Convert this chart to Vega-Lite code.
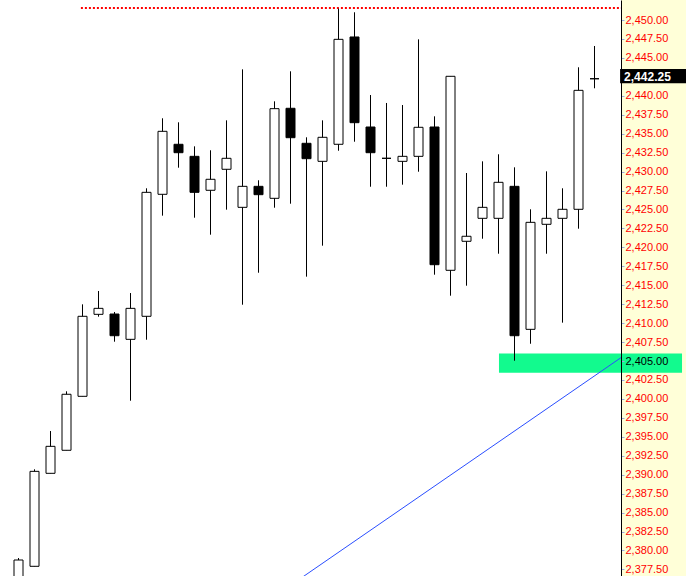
{
  "$schema": "https://vega.github.io/schema/vega-lite/v6.json",
  "width": 621,
  "height": 576,
  "autosize": {"type": "none"},
  "padding": {"left": 0, "top": 0, "right": 65, "bottom": 0},
  "background": "#ffffd8",
  "config": {
    "view": {"stroke": null, "fill": "white"}
  },
  "datasets": {
    "candles": [
      {"i": 0, "open": 2375.5, "high": 2379.0, "low": 2375.0, "close": 2378.74},
      {"i": 1, "open": 2377.91, "high": 2390.71, "low": 2377.91, "close": 2390.44},
      {"i": 2, "open": 2390.18, "high": 2395.76, "low": 2390.18, "close": 2393.74},
      {"i": 3, "open": 2393.22, "high": 2401.0, "low": 2393.22, "close": 2400.61},
      {"i": 4, "open": 2400.34, "high": 2412.48, "low": 2400.34, "close": 2410.9},
      {"i": 5, "open": 2411.16, "high": 2414.24, "low": 2410.85, "close": 2411.95},
      {"i": 6, "open": 2411.2, "high": 2411.47, "low": 2407.55, "close": 2408.34},
      {"i": 7, "open": 2407.86, "high": 2413.97, "low": 2399.76, "close": 2411.95},
      {"i": 8, "open": 2410.9, "high": 2427.79, "low": 2407.81, "close": 2427.26},
      {"i": 9, "open": 2427.0, "high": 2437.03, "low": 2424.18, "close": 2435.31},
      {"i": 10, "open": 2433.6, "high": 2436.5, "low": 2430.51, "close": 2432.49},
      {"i": 11, "open": 2432.01, "high": 2433.33, "low": 2423.91, "close": 2427.26},
      {"i": 12, "open": 2427.53, "high": 2432.81, "low": 2421.67, "close": 2428.98},
      {"i": 13, "open": 2430.3, "high": 2436.76, "low": 2424.97, "close": 2431.75},
      {"i": 14, "open": 2425.28, "high": 2443.49, "low": 2412.43, "close": 2428.05},
      {"i": 15, "open": 2428.05, "high": 2428.85, "low": 2416.65, "close": 2426.95},
      {"i": 16, "open": 2426.47, "high": 2439.27, "low": 2425.23, "close": 2438.3},
      {"i": 17, "open": 2438.35, "high": 2443.23, "low": 2425.76, "close": 2434.47},
      {"i": 18, "open": 2433.73, "high": 2434.52, "low": 2416.13, "close": 2431.7},
      {"i": 19, "open": 2431.35, "high": 2436.76, "low": 2420.22, "close": 2434.52},
      {"i": 20, "open": 2433.6, "high": 2451.5, "low": 2432.75, "close": 2447.45},
      {"i": 21, "open": 2447.76, "high": 2451.02, "low": 2433.94, "close": 2436.45},
      {"i": 22, "open": 2435.88, "high": 2440.1, "low": 2428.0, "close": 2432.49},
      {"i": 23, "open": 2431.75, "high": 2439.05, "low": 2428.0, "close": 2431.75},
      {"i": 24, "open": 2431.35, "high": 2438.78, "low": 2428.27, "close": 2432.01},
      {"i": 25, "open": 2432.01, "high": 2447.45, "low": 2429.98, "close": 2435.84},
      {"i": 26, "open": 2435.88, "high": 2437.29, "low": 2416.39, "close": 2417.71},
      {"i": 27, "open": 2416.97, "high": 2442.57, "low": 2413.62, "close": 2442.57},
      {"i": 28, "open": 2420.8, "high": 2429.81, "low": 2414.94, "close": 2421.46},
      {"i": 29, "open": 2423.83, "high": 2431.35, "low": 2421.14, "close": 2425.28},
      {"i": 30, "open": 2423.83, "high": 2432.28, "low": 2419.16, "close": 2428.58},
      {"i": 31, "open": 2428.05, "high": 2430.56, "low": 2405.04, "close": 2408.34},
      {"i": 32, "open": 2409.18, "high": 2425.02, "low": 2407.28, "close": 2423.3},
      {"i": 33, "open": 2423.04, "high": 2430.03, "low": 2419.16, "close": 2423.83},
      {"i": 34, "open": 2423.83, "high": 2427.79, "low": 2410.06, "close": 2425.02},
      {"i": 35, "open": 2425.02, "high": 2443.76, "low": 2422.46, "close": 2440.72},
      {"i": 36, "open": 2442.25, "high": 2446.57, "low": 2440.99, "close": 2442.25}
    ],
    "resistance": [{"x1": 3.9, "x2": 37.66, "level": 2451.58}],
    "trend": [{"i": 15.67, "v": 2373.46}, {"i": 37.66, "v": 2405.45}],
    "zone": [{"x1": 30.03, "x2": 41.47, "top": 2406.0, "bottom": 2403.45}],
    "last": [{"x1": 37.6, "x2": 41.75, "xt": 37.85, "top": 2443.53, "bottom": 2441.65, "price": 2442.25, "label": "2,442.25"}]
  },
  "layer": [
    {
      "data": {"name": "zone"},
      "mark": {"type": "rect", "color": "#12fa8e", "clip": false},
      "encoding": {
        "x": {"field": "x1", "type": "quantitative", "scale": {"domain": [-1.15625, 37.65625], "nice": false, "zero": false, "padding": 0}, "axis": null},
        "x2": {"field": "x2"},
        "y": {"field": "top", "type": "quantitative", "scale": {"domain": [2376.63, 2452.64], "nice": false, "zero": false, "padding": 0},
          "axis": {
            "orient": "right",
            "title": null,
            "zindex": 1,
            "tickCount": 60,
            "values": [2377.5, 2380, 2382.5, 2385, 2387.5, 2390, 2392.5, 2395, 2397.5, 2400, 2402.5, 2405, 2407.5, 2410, 2412.5, 2415, 2417.5, 2420, 2422.5, 2425, 2427.5, 2430, 2432.5, 2435, 2437.5, 2440, 2445, 2447.5, 2450],
            "format": ",.2f",
            "grid": false,
            "domainColor": "black",
            "domainWidth": 1,
            "tickColor": "#9aa9e0",
            "tickSize": 3,
            "tickWidth": 1,
            "labelPadding": 1,
            "labelFont": "Liberation Sans",
            "labelFontSize": 11,
            "labelColor": {"condition": {"test": "datum.value === 2405", "value": "black"}, "value": "#ff0000"},
            "labelOverlap": false,
            "labelFlush": false,
            "labelBound": false
          }
        },
        "y2": {"field": "bottom"}
      }
    },
    {
      "data": {"name": "trend"},
      "mark": {"type": "line", "color": "#2a4eff", "strokeWidth": 1, "clip": true},
      "encoding": {
        "x": {"field": "i", "type": "quantitative", "axis": null},
        "y": {"field": "v", "type": "quantitative"}
      }
    },
    {
      "data": {"name": "resistance"},
      "mark": {"type": "rule", "color": "#ff0000", "strokeWidth": 2, "strokeDash": [2, 2], "clip": true},
      "encoding": {
        "x": {"field": "x1", "type": "quantitative", "axis": null},
        "x2": {"field": "x2"},
        "y": {"field": "level", "type": "quantitative"}
      }
    },
    {
      "data": {"name": "candles"},
      "mark": {"type": "rule", "color": "black", "strokeWidth": 1, "clip": true},
      "encoding": {
        "x": {"field": "i", "type": "quantitative", "axis": null},
        "y": {"field": "low", "type": "quantitative"},
        "y2": {"field": "high"}
      }
    },
    {
      "data": {"name": "candles"},
      "mark": {"type": "bar", "size": 9, "stroke": "black", "strokeWidth": 1, "clip": true},
      "encoding": {
        "x": {"field": "i", "type": "quantitative", "axis": null},
        "y": {"field": "open", "type": "quantitative"},
        "y2": {"field": "close"},
        "fill": {"condition": {"test": "datum.close < datum.open", "value": "black"}, "value": "white"}
      }
    },
    {
      "data": {"name": "last"},
      "mark": {"type": "rect", "color": "black", "clip": false},
      "encoding": {
        "x": {"field": "x1", "type": "quantitative", "axis": null},
        "x2": {"field": "x2"},
        "y": {"field": "top", "type": "quantitative"},
        "y2": {"field": "bottom"}
      }
    },
    {
      "data": {"name": "last"},
      "mark": {"type": "text", "color": "white", "font": "Liberation Sans", "fontSize": 12, "fontWeight": "bold", "align": "left", "baseline": "middle", "dy": -2, "clip": false},
      "encoding": {
        "x": {"field": "xt", "type": "quantitative", "axis": null},
        "y": {"field": "price", "type": "quantitative"},
        "text": {"field": "label"}
      }
    }
  ]
}
